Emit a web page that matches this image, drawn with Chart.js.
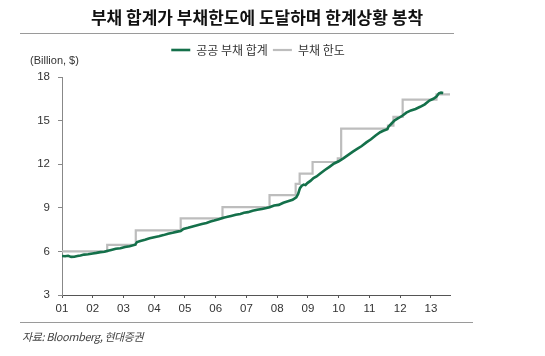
<!DOCTYPE html>
<html>
<head>
<meta charset="utf-8">
<script src="https://cdn.jsdelivr.net/npm/chart.js@4/dist/chart.umd.min.js"></script>
<style>
  html, body { margin: 0; padding: 0; background: #fff; }
  #wrap { position: relative; width: 545px; height: 356px; overflow: hidden; }
  #c { position: absolute; left: 0; top: 0; }
  .txt { position: absolute; white-space: nowrap; color: #222; }
  #title { left: 0; width: 514px; top: 4px; text-align: center; font: bold 17px "Noto Sans CJK KR", sans-serif; letter-spacing: 0px; color: #111; }
  #rule1 { position: absolute; left: 20px; top: 33px; width: 434px; height: 0; border-top: 1.5px solid #9a9a9a; }
  #rule2 { position: absolute; left: 20px; top: 322px; width: 453px; height: 0; border-top: 1.5px solid #9a9a9a; }
  #unit { left: 30px; top: 54px; font: 11px "Liberation Sans", Arial, sans-serif; color: #333; }
  #src { left: 22px; top: 328px; font: italic 11px "Noto Sans CJK KR", sans-serif; color: #444; letter-spacing: -0.4px; }
</style>
</head>
<body>
<div id="wrap">
  <canvas id="c" width="545" height="356"></canvas>
  <div id="title" class="txt">부채 합계가 부채한도에 도달하며 한계상황 봉착</div>
  <div id="rule1"></div>
  <div id="rule2"></div>
  <div id="unit" class="txt">(Billion, $)</div>
  <div id="src" class="txt">자료: Bloomberg, 현대증권</div>
</div>
<script>
// ---- data ----
const seriesNames = ['공공 부채 합계', '부채 한도'];

const debtYears = [
  2001.00, 2001.10, 2001.20, 2001.30, 2001.40, 2001.50, 2001.60, 2001.72, 2001.85,
  2002.00, 2002.12, 2002.25, 2002.38, 2002.46, 2002.60, 2002.75, 2002.90,
  2003.05, 2003.20, 2003.38, 2003.44, 2003.55, 2003.70, 2003.85,
  2004.00, 2004.15, 2004.30, 2004.45, 2004.60, 2004.75, 2004.86, 2004.95,
  2005.10, 2005.25, 2005.40, 2005.55, 2005.70, 2005.83, 2005.95,
  2006.10, 2006.22, 2006.35, 2006.50, 2006.65, 2006.80, 2006.92,
  2007.05, 2007.20, 2007.35, 2007.50, 2007.65, 2007.75, 2007.90,
  2008.05, 2008.20, 2008.35, 2008.50, 2008.62, 2008.68, 2008.74, 2008.80, 2008.86, 2008.92, 2008.98,
  2009.08, 2009.18, 2009.28, 2009.40, 2009.55, 2009.70, 2009.85,
  2010.00, 2010.15, 2010.30, 2010.45, 2010.60, 2010.75, 2010.90,
  2011.05, 2011.20, 2011.35, 2011.45, 2011.58, 2011.62, 2011.72, 2011.82, 2011.95,
  2012.08, 2012.20, 2012.35, 2012.50, 2012.65, 2012.80, 2012.95,
  2013.08, 2013.18, 2013.26, 2013.33, 2013.40
];
const debtValues = [
  5.68, 5.67, 5.70, 5.62, 5.63, 5.68, 5.72, 5.78, 5.80,
  5.86, 5.90, 5.95, 5.98, 6.03, 6.10, 6.18, 6.22,
  6.30, 6.36, 6.46, 6.64, 6.72, 6.80, 6.90,
  6.98, 7.04, 7.12, 7.22, 7.28, 7.36, 7.40, 7.55,
  7.62, 7.72, 7.80, 7.88, 7.95, 8.05, 8.12,
  8.22, 8.30, 8.36, 8.44, 8.52, 8.58, 8.66,
  8.70, 8.80, 8.86, 8.92, 8.98, 9.04, 9.16,
  9.20, 9.35, 9.45, 9.55, 9.72, 9.95, 10.35, 10.52, 10.60, 10.56, 10.70,
  10.85, 11.05, 11.16, 11.36, 11.60, 11.82, 12.05,
  12.20, 12.40, 12.62, 12.85, 13.05, 13.25, 13.50,
  13.72, 13.98, 14.20, 14.30, 14.40, 14.58, 14.80, 15.02, 15.18,
  15.35, 15.55, 15.70, 15.80, 15.95, 16.12, 16.38,
  16.50, 16.65, 16.88, 16.92, 16.90
];

const ceilingYears = [
  2001.00, 2002.47, 2003.40, 2004.86, 2006.22, 2007.75, 2008.60, 2008.73,
  2009.15, 2009.97, 2010.08, 2011.60, 2011.78, 2012.08, 2013.18, 2013.65
];
const ceilingValues = [
  6.00, 6.45, 7.45, 8.27, 9.05, 9.87, 10.65, 11.35,
  12.15, 12.40, 14.45, 14.65, 15.25, 16.45, 16.80, 16.80
];

const xTickYears = [2001, 2002, 2003, 2004, 2005, 2006, 2007, 2008, 2009, 2010, 2011, 2012, 2013];
const xTickLabels = ['01', '02', '03', '04', '05', '06', '07', '08', '09', '10', '11', '12', '13'];
const yTickValues = [3, 6, 9, 12, 15, 18];

// ---- chart ----
const GREEN = '#14704a';
const GRAY = '#bdbdbd';

const legendTweak = {
  id: 'legendTweak',
  beforeInit(chart) {
    const lg = chart.legend;
    if (!lg) return;
    const orig = lg.fit;
    lg.fit = function () { orig.call(this); this.height = 38; };
  },
  afterLayout(chart) {
    const lg = chart.legend;
    if (!lg) return;
    const d = 258 - (lg.left + lg.right) / 2;
    lg.left += d; lg.right += d;
  }
};

new Chart(document.getElementById('c'), {
  type: 'line',
  data: {
    datasets: [
      {
        label: seriesNames[0],
        data: debtYears.map((x, i) => ({ x, y: debtValues[i] })),
        borderColor: GREEN,
        backgroundColor: GREEN,
        borderWidth: 2.6,
        pointRadius: 0,
        tension: 0,
        order: 0
      },
      {
        label: seriesNames[1],
        data: ceilingYears.map((x, i) => ({ x, y: ceilingValues[i] })),
        borderColor: GRAY,
        backgroundColor: GRAY,
        borderWidth: 2.2,
        pointRadius: 0,
        stepped: 'before',
        order: 1
      }
    ]
  },
  options: {
    responsive: false,
    animation: false,
    devicePixelRatio: 1,
    layout: { padding: { top: 39, left: 0, right: 95, bottom: 0 } },
    plugins: {
      legend: {
        position: 'top',
        align: 'center',
        labels: {
          usePointStyle: true,
          pointStyle: 'line',
          pointStyleWidth: 19,
          padding: 5,
          color: '#333',
          font: { family: '"Noto Sans CJK KR", sans-serif', size: 12 }
        }
      },
      tooltip: { enabled: false }
    },
    scales: {
      x: {
        type: 'linear',
        min: 2001,
        max: 2013.62,
        afterFit(scale) { scale.height = 61; },
        afterBuildTicks(scale) { scale.ticks = xTickYears.map(v => ({ value: v })); },
        ticks: {
          autoSkip: false,
          maxRotation: 0,
          padding: 4,
          color: '#333',
          font: { family: '"Liberation Sans", Arial, sans-serif', size: 11.5 },
          callback(v) { const i = xTickYears.indexOf(v); return i >= 0 ? xTickLabels[i] : ''; }
        },
        grid: { display: true, drawOnChartArea: false, drawTicks: true, tickLength: 3, color: '#555' },
        border: { display: true, color: '#555', width: 1 }
      },
      y: {
        min: 3,
        max: 18,
        afterFit(scale) { scale.width = 62; },
        afterBuildTicks(scale) { scale.ticks = yTickValues.map(v => ({ value: v })); },
        ticks: {
          padding: 8,
          color: '#333',
          font: { family: '"Liberation Sans", Arial, sans-serif', size: 11.5 }
        },
        grid: { display: true, drawOnChartArea: false, drawTicks: true, tickLength: 4, color: '#888' },
        border: { display: true, color: '#888', width: 1 }
      }
    }
  },
  plugins: [legendTweak]
});
</script>
</body>
</html>
